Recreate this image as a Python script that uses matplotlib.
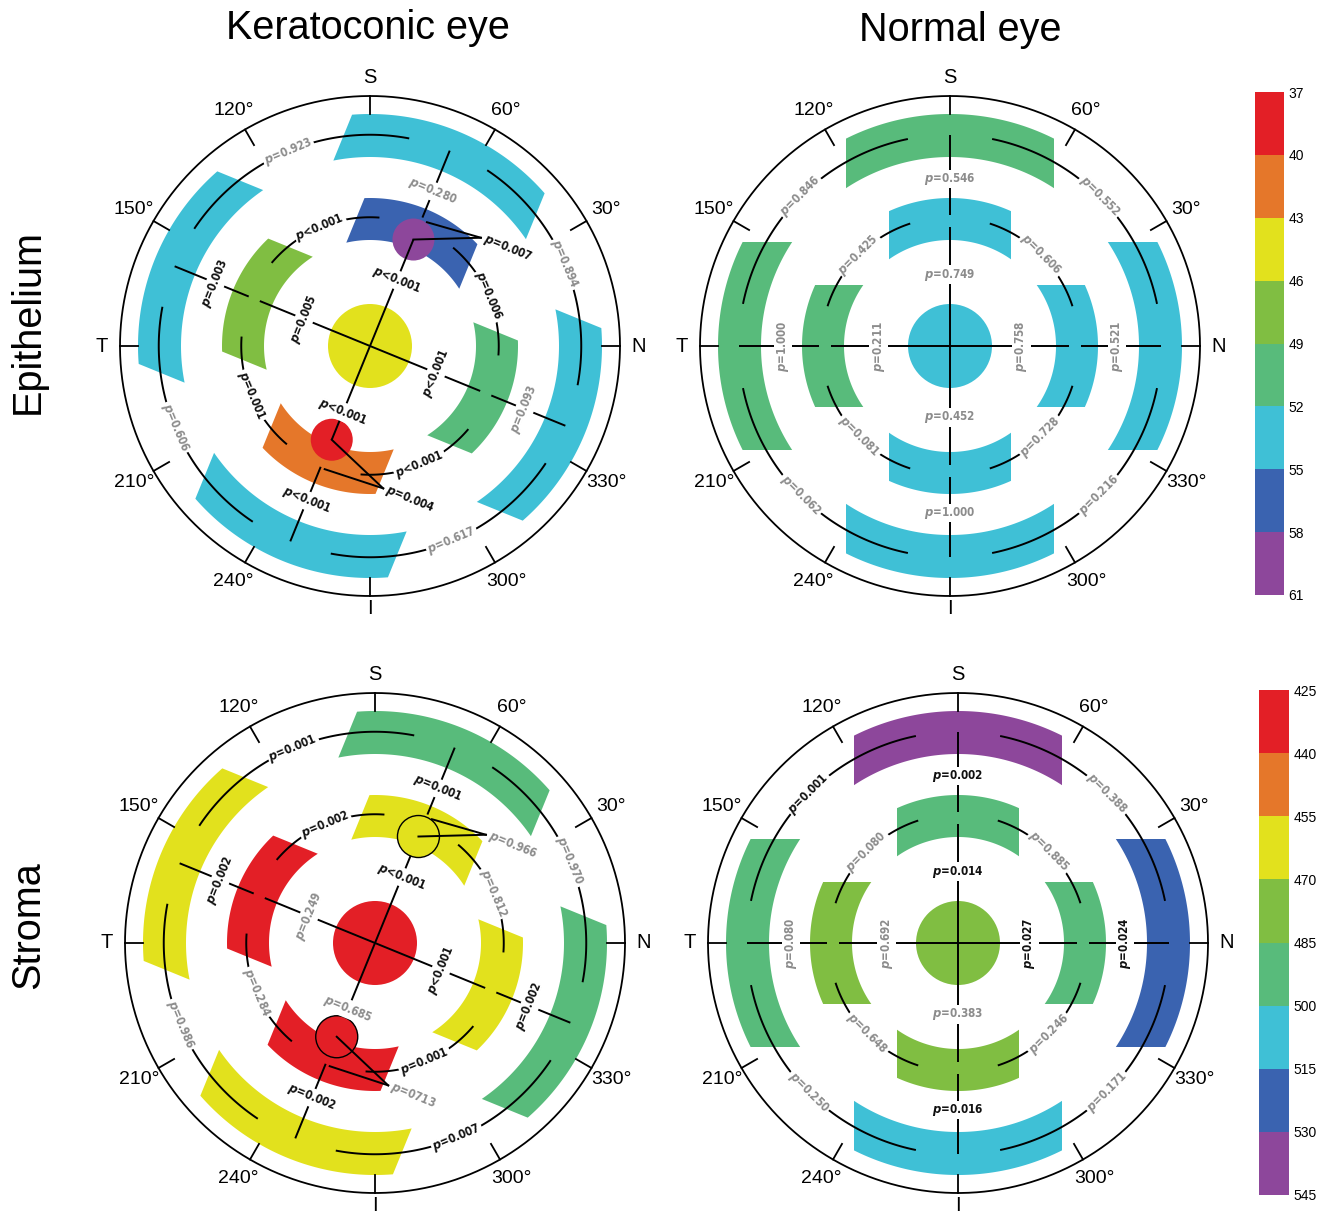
import numpy as np
import matplotlib
matplotlib.use("Agg")
import matplotlib.pyplot as plt
from matplotlib.colors import ListedColormap, BoundaryNorm
from matplotlib.cm import ScalarMappable
from matplotlib.patches import Polygon, Circle

# ---------------- data ----------------
zone_colors = ["#e31f26", "#e5772a", "#e2e11d", "#80be42", "#58bb7b",
               "#3fc0d6", "#3a63b0", "#8d479b"]
epi_bounds = [37, 40, 43, 46, 49, 52, 55, 58, 61]
str_bounds = [425, 440, 455, 470, 485, 500, 515, 530, 545]

# mean thickness (um); zone order S, T, I, N
kc_epi_center = 44.5
kc_epi_inner = [56.5, 47.5, 41.5, 50.5]
kc_epi_outer = [53.5, 53.5, 53.5, 53.5]
kc_epi_apex = 59.5
kc_epi_thin = 38.5

nl_epi_center = 53.5
nl_epi_inner = [53.5, 50.5, 53.5, 53.5]
nl_epi_outer = [50.5, 50.5, 53.5, 53.5]

kc_str_center = 432
kc_str_inner = [462, 435, 437, 465]
kc_str_outer = [492, 463, 466, 495]
kc_str_apex = 463
kc_str_thin = 430

nl_str_center = 478
nl_str_inner = [492, 479, 480, 491]
nl_str_outer = [537, 493, 507, 522]

# p-values: radial (S, T, I, N), arcs (NS, ST, TI, IN quadrants)
kc_epi_p_rad_in = ["<0.001", "=0.005", "<0.001", "<0.001"]
kc_epi_p_rad_out = ["=0.280", "=0.003", "<0.001", "=0.093"]
kc_epi_p_arc_in = ["=0.006", "<0.001", "=0.001", "<0.001"]
kc_epi_p_arc_out = ["=0.894", "=0.923", "=0.606", "=0.617"]
kc_epi_p_apex = "=0.007"
kc_epi_p_thin = "=0.004"

nl_epi_p_rad_in = ["=0.749", "=0.211", "=0.452", "=0.758"]
nl_epi_p_rad_out = ["=0.546", "=1.000", "=1.000", "=0.521"]
nl_epi_p_arc_in = ["=0.606", "=0.425", "=0.081", "=0.728"]
nl_epi_p_arc_out = ["=0.552", "=0.846", "=0.062", "=0.216"]

kc_str_p_rad_in = ["<0.001", "=0.249", "=0.685", "<0.001"]
kc_str_p_rad_out = ["=0.001", "=0.002", "=0.002", "=0.002"]
kc_str_p_arc_in = ["=0.812", "=0.002", "=0.284", "=0.001"]
kc_str_p_arc_out = ["=0.970", "=0.001", "=0.986", "=0.007"]
kc_str_p_apex = "=0.966"
kc_str_p_thin = "=0713"

nl_str_p_rad_in = ["=0.014", "=0.692", "=0.383", "=0.027"]
nl_str_p_rad_out = ["=0.002", "=0.080", "=0.016", "=0.024"]
nl_str_p_arc_in = ["=0.885", "=0.080", "=0.648", "=0.246"]
nl_str_p_arc_out = ["=0.388", "=0.001", "=0.250", "=0.171"]

col_titles = ["Keratoconic eye", "Normal eye"]
row_titles = ["Epithelium", "Stroma"]
deg_labels = [30, 60, 120, 150, 210, 240, 300, 330]
card_labels = {90: ("S", 1.075), 0: ("N", 1.075), 180: ("T", 1.075), 270: ("I", 1.05)}

# ---------------- geometry (outer circle radius = 1) ----------------
W, H = 1321, 1218
R_DISK = 0.168
R_IN = (0.424, 0.592, 0.244)     # inner ring r1, r2, half width
R_OUT = (0.756, 0.928, 0.416)
ARC_IN, ARC_OUT = 0.515, 0.845
LINE_END = 0.844
KC_ROT = -22.2
DIRS = [90, 180, 270, 0]          # S, T, I, N in the map's own frame
QUADS = [45, 135, 225, 315]
P_SIZE = 8.4

plt.rcParams['font.family'] = ['Liberation Sans', 'DejaVu Sans']
plt.rcParams['mathtext.fontset'] = 'custom'
plt.rcParams['mathtext.it'] = 'DejaVu Sans:italic:bold'
plt.rcParams['mathtext.rm'] = 'DejaVu Sans:bold'

fig = plt.figure(figsize=(W / 100, H / 100), dpi=100)


def pol(theta, r):
    t = np.radians(theta)
    return r * np.cos(t), r * np.sin(t)


def readable(rot, limit):
    rot = (rot + 180) % 360 - 180
    if rot > limit:
        rot -= 180
    elif rot <= limit - 180:
        rot += 180
    return rot


def p_color(s):
    val = float(s[1:]) if "." in s else float("0." + s[2:])
    return "#111111" if val < 0.05 else "#8c8c8c"


def p_label(ax, s, theta, r, limit):
    x, y = pol(theta, r)
    ax.text(x, y, r"$p$" + s, color=p_color(s), fontsize=P_SIZE, fontweight='bold',
            family='DejaVu Sans', fontstretch='condensed',
            rotation=readable(theta - 90, limit), rotation_mode='anchor',
            ha='center', va='center', zorder=6,
            bbox=dict(boxstyle='square,pad=0.12', fc='white', ec='none'))


def band(ax, theta, ring, color):
    r1, r2, hw = ring
    a1, a2 = np.degrees(np.arcsin(hw / r1)), np.degrees(np.arcsin(hw / r2))
    t_out = np.radians(np.linspace(theta - a2, theta + a2, 80))
    t_in = np.radians(np.linspace(theta + a1, theta - a1, 80))
    xs = np.concatenate([r2 * np.cos(t_out), r1 * np.cos(t_in)])
    ys = np.concatenate([r2 * np.sin(t_out), r1 * np.sin(t_in)])
    ax.add_patch(Polygon(np.column_stack([xs, ys]), closed=True, fc=color,
                         ec='none', zorder=1))


def draw_panel(center_px, bounds, center, inner, outer, p_rad_in, p_rad_out,
               p_arc_in, p_arc_out, rot=0.0, apex=None, thin=None,
               p_apex=None, p_thin=None, outlined=False):
    cx, cy = center_px
    ax = fig.add_axes([(cx - 300) / W, (H - cy - 300) / H, 600 / W, 600 / H])
    ax.set_xlim(-1.2, 1.2)
    ax.set_ylim(-1.2, 1.2)
    ax.set_aspect('equal')
    ax.axis('off')
    cmap = ListedColormap(zone_colors)
    norm = BoundaryNorm(bounds, cmap.N)

    # frame: circle, ticks, labels
    t = np.linspace(0, 2 * np.pi, 400)
    ax.plot(np.cos(t), np.sin(t), color='black', lw=1.3, zorder=3)
    for a in range(0, 360, 30):
        x0, y0 = pol(a, R_OUT[1])
        x1, y1 = pol(a, 1.0)
        ax.plot([x0, x1], [y0, y1], color='black', lw=1.3, zorder=3)
    for a in deg_labels:
        x, y = pol(a, 1.09)
        ax.text(x, y, f"{a}°", fontsize=14, ha='center', va='center')
    for a, (s, rr) in card_labels.items():
        x, y = pol(a, rr)
        ax.text(x, y, s, fontsize=14.5, ha='center', va='center')

    # zones
    ax.add_patch(Circle((0, 0), R_DISK, fc=cmap(norm(center)), ec='none', zorder=1))
    for d, vi, vo in zip(DIRS, inner, outer):
        band(ax, d + rot, R_IN, cmap(norm(vi)))
        band(ax, d + rot, R_OUT, cmap(norm(vo)))

    # radial connections
    in_end = {90: 0.476, 180: 0.476, 270: 0.476, 0: 0.476}
    out_start = {90: 0.524, 180: 0.524, 270: 0.524, 0: 0.524}
    if apex is not None:
        in_end[90], out_start[90] = 0.46, 0.555
        in_end[270], out_start[270] = 0.405, 0.522
    for d, pi, po in zip(DIRS, p_rad_in, p_rad_out):
        a = d + rot
        for r0, r1 in [(0.0, in_end[d]), (out_start[d], LINE_END)]:
            x0, y0 = pol(a, r0)
            x1, y1 = pol(a, r1)
            ax.plot([x0, x1], [y0, y1], color='black', lw=1.4, zorder=3,
                    solid_capstyle='butt')
        p_label(ax, pi, a, 0.285, 135)
        p_label(ax, po, a, 0.668, 135)

    # arcs between neighbouring zones
    for q, pi, po in zip(QUADS, p_arc_in, p_arc_out):
        for r, half, s in [(ARC_IN, 27, pi), (ARC_OUT, 33.5, po)]:
            tt = np.radians(np.linspace(q - half, q + half, 80) + rot)
            ax.plot(r * np.cos(tt), r * np.sin(tt), color='black', lw=1.4,
                    zorder=3, solid_capstyle='butt')
            p_label(ax, s, q + rot, r, 90)

    # thickest / thinnest points
    if apex is not None:
        spots = [(apex, 90, in_end[90], [(90, in_end[90]), (87.5, 0.545)],
                  (66.5, 0.62), p_apex),
                 (thin, 270, in_end[270], [(270, in_end[270]), (272, 0.525)],
                  (297.5, 0.572), p_thin)]
        for val, d, r, starts, anchor, ps in spots:
            ax.add_patch(Circle(pol(d + rot, r), 0.084, fc=cmap(norm(val)),
                                ec='black' if outlined else 'none', lw=1.0,
                                zorder=4 if outlined else 2))
            ax_, ay_ = pol(anchor[0] + rot, anchor[1])
            for sd, sr in starts:
                sx, sy = pol(sd + rot, sr)
                ax.plot([sx, ax_], [sy, ay_], color='black', lw=1.4, zorder=5)
            ox, oy = pol(rot, 0.012)
            ax.text(ax_ + ox, ay_ + oy, r"$p$" + ps, color=p_color(ps),
                    fontsize=P_SIZE, fontweight='bold', family='DejaVu Sans',
                    fontstretch='condensed', rotation=rot,
                    rotation_mode='anchor', ha='left', va='center', zorder=6)
    return ax


draw_panel((370, 346), epi_bounds, kc_epi_center, kc_epi_inner, kc_epi_outer,
           kc_epi_p_rad_in, kc_epi_p_rad_out, kc_epi_p_arc_in, kc_epi_p_arc_out,
           rot=KC_ROT, apex=kc_epi_apex, thin=kc_epi_thin,
           p_apex=kc_epi_p_apex, p_thin=kc_epi_p_thin)
draw_panel((950, 346), epi_bounds, nl_epi_center, nl_epi_inner, nl_epi_outer,
           nl_epi_p_rad_in, nl_epi_p_rad_out, nl_epi_p_arc_in, nl_epi_p_arc_out)
draw_panel((375, 943), str_bounds, kc_str_center, kc_str_inner, kc_str_outer,
           kc_str_p_rad_in, kc_str_p_rad_out, kc_str_p_arc_in, kc_str_p_arc_out,
           rot=KC_ROT, apex=kc_str_apex, thin=kc_str_thin,
           p_apex=kc_str_p_apex, p_thin=kc_str_p_thin, outlined=True)
draw_panel((958, 943), str_bounds, nl_str_center, nl_str_inner, nl_str_outer,
           nl_str_p_rad_in, nl_str_p_rad_out, nl_str_p_arc_in, nl_str_p_arc_out)

# colour bars
for bounds, box in [(epi_bounds, (1255, 92, 29, 503)),
                    (str_bounds, (1259, 690, 30, 505))]:
    x, y, w, h = box
    cax = fig.add_axes([x / W, (H - y - h) / H, w / W, h / H])
    cmap = ListedColormap(zone_colors)
    norm = BoundaryNorm(bounds, cmap.N)
    cb = fig.colorbar(ScalarMappable(norm=norm, cmap=cmap), cax=cax, ticks=bounds)
    cb.outline.set_visible(False)
    cb.ax.invert_yaxis()
    cb.ax.tick_params(length=0, pad=3, labelsize=10)

# titles
for txt, (x, y) in zip(col_titles, [(368, 28), (960, 30)]):
    fig.text(x / W, 1 - y / H, txt, fontsize=28.5, ha='center', va='center')
for txt, (x, y) in zip(row_titles, [(28, 322), (28, 925)]):
    fig.text(x / W, 1 - y / H, txt, fontsize=28.5, rotation=90,
             ha='center', va='center')

fig.savefig("out.png", dpi=100, facecolor='white')
